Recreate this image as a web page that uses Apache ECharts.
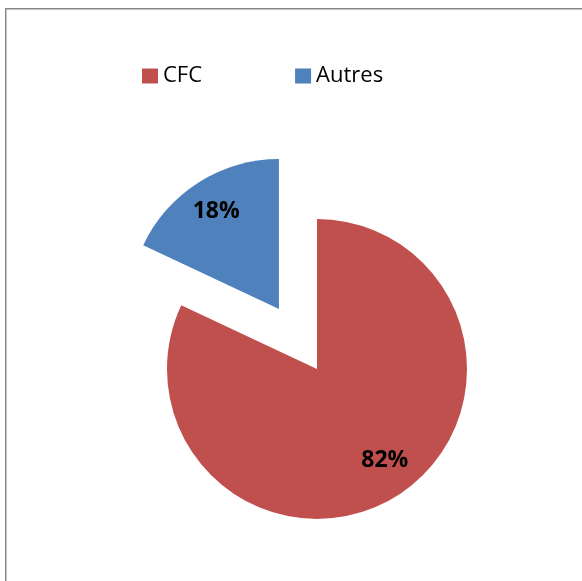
<!DOCTYPE html>
<html>
<head>
<meta charset="utf-8">
<script src="https://cdn.jsdelivr.net/npm/echarts@6/dist/echarts.min.js"></script>
<style>
html, body { margin: 0; padding: 0; background: #fff; }
#main { width: 582px; height: 581px; }
</style>
</head>
<body>
<div id="main"></div>
<script>
// données du graphique
var categories = ['CFC', 'Autres'];
var values = [82, 18];
var colors = ['#C0504D', '#4F81BD'];
var labelOffsets = [[26, 26], [-21, -32]];

var myChart = echarts.init(document.getElementById('main'));

var data = [];
for (var i = 0; i < categories.length; i++) {
	data.push({
		name: categories[i],
		value: values[i],
		selected: categories[i] == 'Autres',
		itemStyle: { color: colors[i] },
		label: { offset: labelOffsets[i] },
		select: { label: { offset: labelOffsets[i] } }
	});
}

var option = {
	animation: false,
	graphic: [{
		type: 'rect',
		shape: { x: 5.75, y: 8.75, width: 700, height: 700 },
		style: { fill: 'none', stroke: '#888888', lineWidth: 1.5 },
		silent: true
	}],
	legend: {
		data: categories,
		left: 137,
		top: 60,
		icon: 'rect',
		itemWidth: 16,
		itemHeight: 15,
		itemGap: 93,
		textStyle: {
			fontFamily: 'Open Sans',
			fontSize: 22,
			color: '#000'
		}
	},
	series: [{
		type: 'pie',
		center: [317, 369],
		radius: 150,
		startAngle: 90,
		clockwise: true,
		selectedMode: 'single',
		selectedOffset: 71,
		label: {
			show: true,
			position: 'inside',
			formatter: '{c}%',
			fontFamily: 'Open Sans',
			fontWeight: 'bold',
			fontSize: 23,
			color: '#000'
		},
		labelLine: { show: false },
		emphasis: { disabled: true },
		data: data
	}]
};
myChart.setOption(option);
</script>
</body>
</html>
